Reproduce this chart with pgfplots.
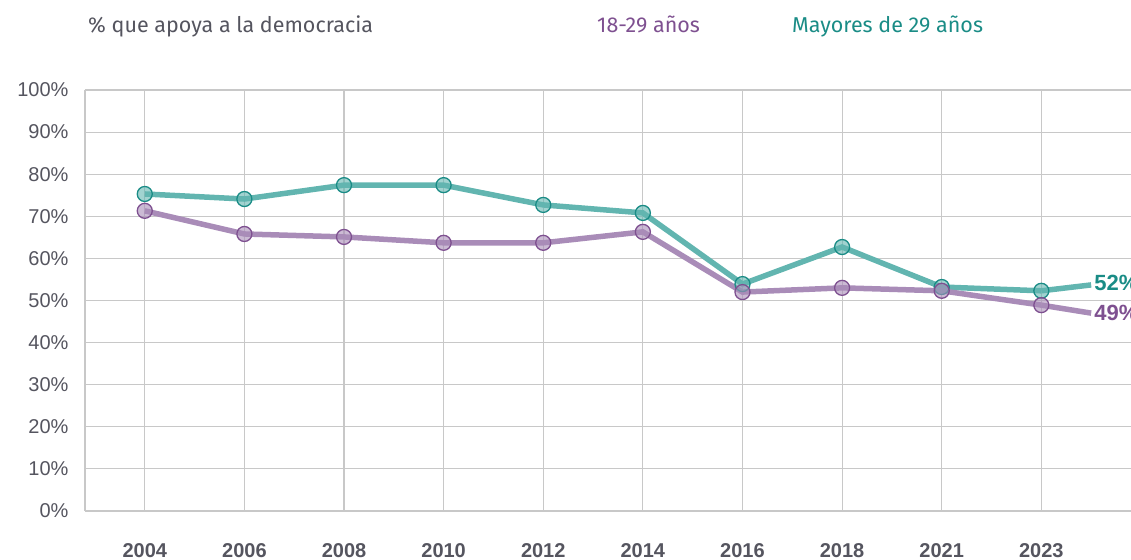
\documentclass[border=0pt]{standalone}
\usepackage{pgfplots}
\pgfplotsset{compat=1.18}
\usepackage{fontspec}
\setmainfont{Liberation Sans}
\newfontfamily\fira{Fira Sans}
\definecolor{tealL}{HTML}{62B5B0}
\definecolor{tealD}{HTML}{1A8C86}
\definecolor{purL}{HTML}{A98CB8}
\definecolor{purD}{HTML}{7E5090}
\definecolor{txtg}{HTML}{55555F}
\definecolor{gridg}{HTML}{C8C8C8}
\begin{document}
\begin{tikzpicture}[x=1bp,y=1bp]
\begin{axis}[
  scale only axis,
  width=1046bp, height=421bp,
  xmin=-0.6, xmax=9.9,
  ymin=0, ymax=100,
  axis line style={draw=gridg, line width=1.2bp},
  axis x line*=bottom, axis y line*=left,
  xtick={0,...,9},
  xticklabels={2004,2006,2008,2010,2012,2014,2016,2018,2021,2023},
  ytick={0,10,...,100},
  yticklabel={\pgfmathprintnumber{\tick}\%},
  major tick length=0pt,
  grid=major,
  major grid style={draw=gridg, line width=1.1bp},
  tick label style={font=\fontsize{20bp}{23bp}\selectfont, text=txtg},
  xticklabel style={font=\fontsize{20bp}{24bp}\selectfont\bfseries, yshift=-29bp},
  yticklabel style={xshift=-13bp},
  /pgf/number format/assume math mode=true,
  clip=false,
]
\addplot[tealL, line width=5.5bp, mark=*, mark size=7.5bp,
  mark options={draw=tealD, fill=tealL, fill opacity=0.6, line width=1.3bp}]
  coordinates {(0,75.3)(1,74.1)(2,77.4)(3,77.4)(4,72.7)(5,70.8)(6,53.9)(7,62.7)(8,53.2)(9,52.3)};
\addplot[tealL, line width=5.5bp] coordinates {(9,52.3)(9.5,53.7)};
\addplot[purL, line width=5.5bp, mark=*, mark size=7.5bp,
  mark options={draw=purD, fill=purL, fill opacity=0.6, line width=1.3bp}]
  coordinates {(0,71.3)(1,65.8)(2,65.1)(3,63.7)(4,63.7)(5,66.3)(6,52.0)(7,53.0)(8,52.3)(9,48.9)};
\addplot[purL, line width=5.5bp] coordinates {(9,48.9)(9.5,47.0)};
\node[anchor=west, text=tealD, font=\fontsize{22bp}{26bp}\selectfont\bfseries, inner sep=0pt] at (axis cs:9.53,54.2) {52\%};
\node[anchor=west, text=purD, font=\fontsize{22bp}{26bp}\selectfont\bfseries, inner sep=0pt] at (axis cs:9.53,47.0) {49\%};
\end{axis}
\node[anchor=base west, inner sep=0pt, text=txtg, font=\fira\fontsize{21.5bp}{25bp}\selectfont] at (3,478) {\% que apoya a la democracia};
\node[anchor=base west, inner sep=0pt, text=purD, font=\fira\fontsize{21.5bp}{25bp}\selectfont] at (512,478) {18-29 años};
\node[anchor=base west, inner sep=0pt, text=tealD, font=\fira\fontsize{21.5bp}{25bp}\selectfont] at (707,478) {Mayores de 29 años};
\pgfresetboundingbox
\path[use as bounding box] (-85,-49) rectangle (1046,511);
\end{tikzpicture}
\end{document}
